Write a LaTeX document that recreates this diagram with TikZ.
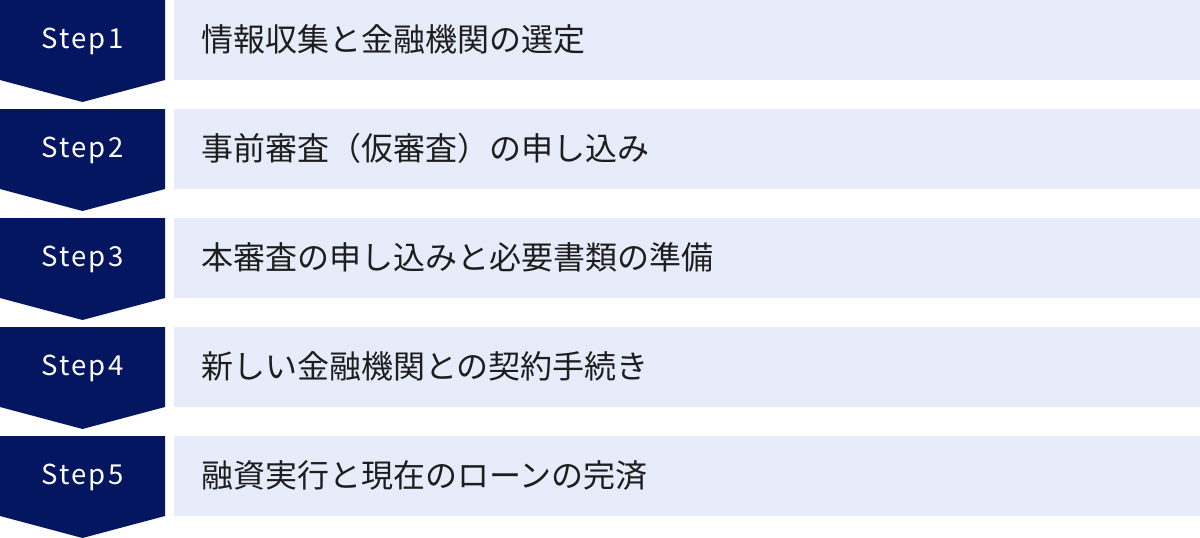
\documentclass[tikz,border=0pt]{standalone}
\usepackage{fontspec}
\setmainfont{Noto Sans CJK JP}
\newfontfamily\stepfont[LetterSpace=8]{Noto Sans CJK JP}
\definecolor{navy}{RGB}{5,22,96}
\definecolor{pale}{RGB}{230,236,250}
\definecolor{ink}{RGB}{30,30,30}
\tikzset{
  x=1pt,y=-1pt,
  chev/.style={fill=navy,draw=none},
  lbox/.style={fill=pale,draw=none,anchor=north west,minimum width=1026pt,minimum height=80pt,inner sep=0pt,outer sep=0pt},
  steplbl/.style={text=white,font=\stepfont\fontsize{27.5}{32}\selectfont,inner sep=0pt},
  desc/.style={text=ink,font=\fontsize{32}{36}\selectfont,anchor=west,inner sep=0pt}
}
\begin{document}
\begin{tikzpicture}
\useasboundingbox (0,0) rectangle (1200,538);
\foreach \i/\t in {1/情報収集と金融機関の選定,2/事前審査（仮審査）の申し込み,3/本審査の申し込みと必要書類の準備,4/新しい金融機関との契約手続き,5/融資実行と現在のローンの完済}{
  \pgfmathsetmacro\yy{(\i-1)*109}
  \fill[chev] (0,\yy) -- (165,\yy) -- (165,\yy+80) -- (82.5,\yy+102) -- (0,\yy+80) -- cycle;
  \node[steplbl] (s\i) at (82.5,\yy+41) {Step\i};
  \node[lbox] (b\i) at (174,\yy) {};
  \node[desc] (d\i) at (201,\yy+39.5) {\t};
}
\end{tikzpicture}
\end{document}
